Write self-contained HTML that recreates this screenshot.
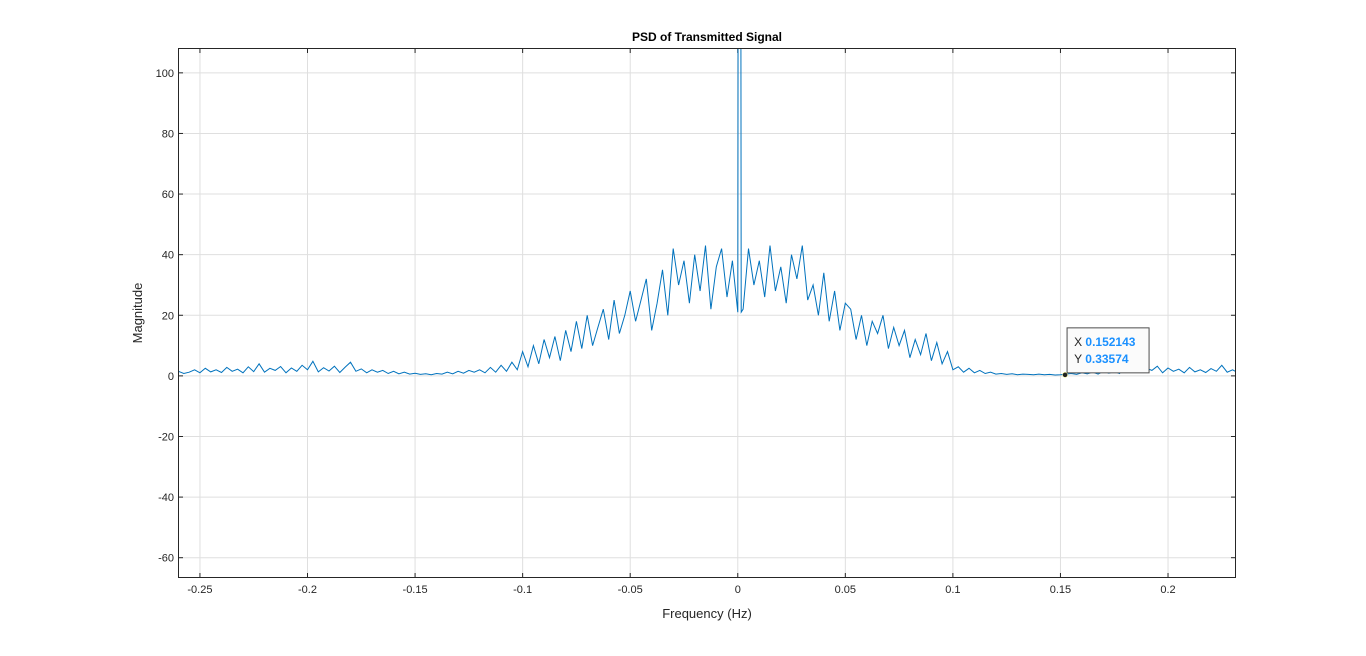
<!DOCTYPE html>
<html><head><meta charset="utf-8"><style>
body{margin:0;background:#fff;font-family:"Liberation Sans",sans-serif}
svg text{font-family:"Liberation Sans",sans-serif}
</style></head><body>
<svg id="c" width="1366" height="651"></svg>
<script>
const xStart=-0.26, xStep=0.0025;
const magnitudes=[1.5,0.8,1.2,2.0,1.0,2.5,1.3,2.0,1.1,2.8,1.5,2.2,1.0,3.0,1.4,4.0,1.2,2.5,1.8,3.1,1.0,2.6,1.5,3.5,2.0,4.8,1.3,2.7,1.6,3.2,1.1,2.9,4.5,1.5,2.3,1.0,2.0,1.2,1.8,0.8,1.5,0.7,1.2,0.6,0.9,
0.5,0.7,0.4,0.8,0.6,1.2,0.7,1.5,0.9,1.8,1.2,
2.0,1.0,2.8,1.2,3.5,1.5,4.5,2.0,
8,3,10,4,12,6,13,5,15,8,18,9,20,10,16,22,12,25,14,20,
28,18,25,32,15,24,35,20,
42,30,38,24,40,28,43,22,36,42,26,38,
21,
22,42,30,38,26,43,28,36,24,40,32,43,
25,30,20,34,18,28,15,24,
22,12,20,10,18,14,20,9,16,10,15,6,12,7,14,5,11,4,8,2,
3,1.2,2.5,1.0,1.8,0.8,1.2,0.6,
0.8,0.5,0.7,0.4,0.6,0.5,0.4,0.6,0.4,0.5,0.3,0.34,
0.6,0.8,0.5,1.0,0.7,1.2,0.6,1.5,0.9,1.4,0.8,3.8,1.5,3.0,1.2,2.5,1.8,3.2,1.0,2.6,1.5,2.2,1.0,2.8,1.3,2.0,1.1,2.4,1.5,3.5,1.2,2.0,1.0];
const spikeFreqs=[0.0004,0.0012,0.0016];
const spikeVals=[300,300,21];
const xTicks=[-0.25,-0.2,-0.15,-0.1,-0.05,0,0.05,0.1,0.15,0.2];
const xTickLabels=["-0.25","-0.2","-0.15","-0.1","-0.05","0","0.05","0.1","0.15","0.2"];
const yTicks=[-60,-40,-20,0,20,40,60,80,100];
const tipX=0.152143, tipY=0.33574;

const L=178,R=1236,T=48,B=578;
const xMin=-0.2602,xMax=0.2316,yMin=-66.7,yMax=108.2;
const sx=v=>L+(v-xMin)/(xMax-xMin)*(R-L);
const sy=v=>B-(v-yMin)/(yMax-yMin)*(B-T);
const NS="http://www.w3.org/2000/svg";
const svg=document.getElementById('c');
function mk(tag,attrs,parent){const e=document.createElementNS(NS,tag);for(const k in attrs)e.setAttribute(k,attrs[k]);(parent||svg).appendChild(e);return e;}

const bg=mk('rect',{x:L,y:T,width:R-L,height:B-T,fill:'#fff'});


const defs=mk('defs',{});
const cp=mk('clipPath',{id:'clip'},defs);
mk('rect',{x:L,y:T,width:R-L,height:B-T},cp);

xTicks.forEach((t,i)=>{
  const x=sx(t);
  const g=mk('line',{x1:x,x2:x,y1:T,y2:B,stroke:'#dfdfdf','stroke-width':1});
  
  
  mk('line',{x1:x,x2:x,y1:B,y2:B-5,stroke:'#262626'});
  mk('line',{x1:x,x2:x,y1:T,y2:T+5,stroke:'#262626'});
  const tx=mk('text',{x:x,y:B+15,'text-anchor':'middle','font-size':11,fill:'#262626'});
  tx.textContent=xTickLabels[i];
  
  
});
yTicks.forEach(t=>{
  const y=sy(t);
  const g=mk('line',{x1:L,x2:R,y1:y,y2:y,stroke:'#dfdfdf','stroke-width':1});
  
  
  mk('line',{x1:L,x2:L+5,y1:y,y2:y,stroke:'#262626'});
  mk('line',{x1:R,x2:R-5,y1:y,y2:y,stroke:'#262626'});
  const tx=mk('text',{x:L-4,y:y+4,'text-anchor':'end','font-size':11,fill:'#262626'});
  tx.textContent=String(t);
  
  
});

let all=magnitudes.map((v,i)=>[xStart+i*xStep,v]);
spikeFreqs.forEach((f,i)=>all.push([f,spikeVals[i]]));
all.sort((a,b)=>a[0]-b[0]);
const pts=all.map(p=>sx(p[0]).toFixed(1)+','+sy(p[1]).toFixed(1)).join(' ');
const line=mk('polyline',{points:pts,fill:'none',stroke:'#0072bd','stroke-width':1,'clip-path':'url(#clip)'});



const frame=mk('rect',{x:L+0.5,y:T+0.5,width:R-L-1,height:B-T-1,fill:'none',stroke:'#262626','stroke-width':1});



const title=mk('text',{x:(L+R)/2,y:41,'text-anchor':'middle','font-size':12,'font-weight':'bold',fill:'#000'});
title.textContent='PSD of Transmitted Signal';


const xl=mk('text',{x:(L+R)/2,y:618,'text-anchor':'middle','font-size':13,fill:'#262626'});
xl.textContent='Frequency (Hz)';


const yl=mk('text',{x:0,y:0,'text-anchor':'middle','font-size':13,fill:'#262626',transform:'translate(142,'+((T+B)/2)+') rotate(-90)'});
yl.textContent='Magnitude';



const px=sx(tipX),py=sy(tipY);
const tip=mk('g',{});


mk('rect',{x:px+2,y:py-47,width:82,height:45,fill:'#fbfbfb',stroke:'#4d4d4d','stroke-width':1},tip);
const t1=mk('text',{x:px+9,y:py-29,'font-size':12,fill:'#262626'},tip);
t1.innerHTML='X <tspan font-weight="bold" fill="#1a90ff">'+tipX+'</tspan>';
const t2=mk('text',{x:px+9,y:py-12,'font-size':12,fill:'#262626'},tip);
t2.innerHTML='Y <tspan font-weight="bold" fill="#1a90ff">'+tipY+'</tspan>';
mk('circle',{cx:px,cy:py,r:2.5,fill:'#222',stroke:'#ff8',"stroke-width":0.5},tip);
</script>
</body></html>
